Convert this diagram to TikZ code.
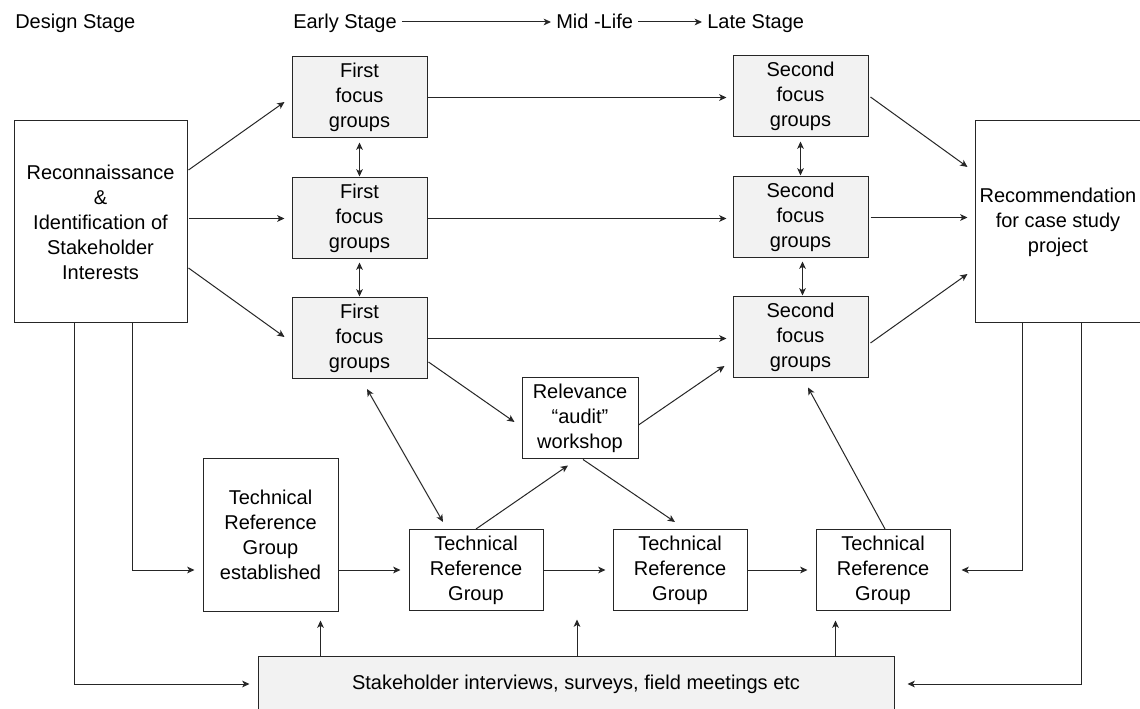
\documentclass[tikz,border=0pt]{standalone}
\usepackage{fontspec}
\setmainfont{Liberation Sans}
\usetikzlibrary{arrows.meta,calc}
\definecolor{linec}{HTML}{262626}
\definecolor{fillg}{HTML}{F2F2F2}
\begin{document}
\begin{tikzpicture}[x=0.75pt,y=-0.75pt,
 every node/.style={font=\fontsize{15}{18.75}\selectfont, text=black},
 box/.style={draw=linec, line width=0.75pt, align=center, inner sep=0pt, fill=white},
 gbox/.style={box, fill=fillg},
 fgbox/.style={gbox, minimum width=101.25pt, minimum height=60.75pt},
 trgbox/.style={box, minimum width=100.5pt, minimum height=60.75pt},
 hdr/.style={anchor=west, inner sep=3.75pt, text height=10.5pt, text depth=0pt},
 tip/.style={-{Stealth[length=5.5pt,width=5pt,inset=1.5pt]}},
 arr/.style={draw=linec, line width=0.75pt, tip},
 darr/.style={draw=linec, line width=0.75pt, {Stealth[length=5.5pt,width=5pt,inset=1.5pt]}-{Stealth[length=5.5pt,width=5pt,inset=1.5pt]}},
]
\clip (0,0) rectangle (1140,709);
\fill[white] (0,0) rectangle (1140,709);

% header
\node[hdr] (hDesign) at (10,22) {Design Stage};
\node[hdr] (hEarly) at (288,22) {Early Stage};
\node[hdr] (hMid) at (551,22) {Mid -Life};
\node[hdr] (hLate) at (702,22) {Late Stage};
\draw[arr] (hEarly) -- (hMid);
\draw[arr] (hMid) -- (hLate);

% boxes
\node[box, minimum width=129.75pt, minimum height=151.5pt] (recon) at (100.5,222)
  {Reconnaissance\\\&\\Identification of\\Stakeholder\\Interests};
\node[fgbox] (ff1) at (359.5,97.5) {First\\focus\\groups};
\node[fgbox] (ff2) at (359.5,218.5) {First\\focus\\groups};
\node[fgbox] (ff3) at (359.5,338.5) {First\\focus\\groups};
\node[fgbox] (sf1) at (800.5,96.5) {Second\\focus\\groups};
\node[fgbox] (sf2) at (800.5,217.5) {Second\\focus\\groups};
\node[fgbox] (sf3) at (800.5,337.5) {Second\\focus\\groups};
\node[box, minimum width=124.5pt, minimum height=151.5pt] (rec) at (1058,222)
  {Recommendation\\for case study\\project};
\node[box, minimum width=87pt, minimum height=60.75pt] (rel) at (580,418.5)
  {Relevance\\``audit''\\workshop};
\node[box, minimum width=101.25pt, minimum height=114pt] (est) at (270.5,535)
  {Technical\\Reference\\Group\\established};
\node[trgbox] (trg1) at (476,570) {Technical\\Reference\\Group};
\node[trgbox] (trg2) at (680,570) {Technical\\Reference\\Group};
\node[trgbox] (trg3) at (883,570) {Technical\\Reference\\Group};
\node[gbox, minimum width=477pt, minimum height=42pt] (stake) at (576,684)
  {Stakeholder interviews, surveys, field meetings etc};

% recon to first focus groups
\draw[arr] ($(recon.east)+(1,-52)$) -- ($(ff1.west)+(-7,4.5)$);
\draw[arr] ($(recon.east|-ff2.west)+(1,0)$) -- ($(ff2.west)+(-7,0)$);
\draw[arr] ($(recon.east)+(1,46)$) -- ($(ff3.west)+(-7,-1.5)$);
\draw[darr] ($(ff1.south)+(0,4)$) -- ($(ff2.north)+(0,-1)$);
\draw[darr] ($(ff2.south)+(0,3)$) -- ($(ff3.north)+(0,-1)$);

% first to second
\draw[arr] (ff1.east) -- ($(sf1.west|-ff1.east)+(-6,0)$);
\draw[arr] (ff2.east) -- ($(sf2.west|-ff2.east)+(-6,0)$);
\draw[arr] (ff3.east) -- ($(sf3.west|-ff3.east)+(-6,0)$);
\draw[darr] ($(sf1.south)+(0,4)$) -- ($(sf2.north)+(0,-1)$);
\draw[darr] ($(sf2.south)+(2,3)$) -- ($(sf3.north)+(2,-1)$);

% second to recommendation
\draw[arr] ($(sf1.east)+(2,0.5)$) -- ($(rec.west)+(-7,-55)$);
\draw[arr] ($(sf2.east)+(2,0)$) -- ($(rec.west|-sf2.east)+(-7,0)$);
\draw[arr] ($(sf3.east)+(2,5.5)$) -- ($(rec.west)+(-7,52)$);

% relevance audit
\draw[arr] ($(ff3.east)+(1,23.5)$) -- ($(rel.west)+(-7,3.5)$);
\draw[arr] ($(rel.east)+(0,6.5)$) -- ($(sf3.west)+(-8,28.5)$);
\draw[darr] ($(ff3.south)+(7.5,9.5)$) -- ($(trg1.north)+(-33,-7)$);
\draw[arr] (trg1.north) -- ($(rel.south)+(-12,6)$);
\draw[arr] ($(rel.south)+(3,0)$) -- ($(trg2.north)+(-5,-7)$);
\draw[arr] ($(trg3.north)+(2,0)$) -- ($(sf3.south)+(7.5,9)$);

% technical reference chain
\draw[arr] (est.east|-trg1.west) -- ($(trg1.west)+(-8,0)$);
\draw[arr] (trg1.east) -- ($(trg2.west)+(-7,0)$);
\draw[arr] (trg2.east) -- ($(trg3.west)+(-8,0)$);

% elbow connectors
\draw[arr] ($(recon.south west)+(119,0)$) |- ($(est.west|-trg1.west)+(-8,0)$);
\draw[arr] ($(recon.south west)+(61,0)$) |- ($(stake.west)+(-8,0)$);
\draw[arr] ($(rec.south west)+(48,0)$) |- ($(trg3.east)+(11,0)$);
\draw[arr] ($(rec.south west)+(107,0)$) |- ($(stake.east)+(13,0)$);

% stakeholder up arrows
\coordinate (t1) at ($(est.south east)+(-18,9)$);
\coordinate (t2) at ($(stake.north)+(1,-36)$);
\coordinate (t3) at ($(trg3.south west)+(20,9.5)$);
\draw[arr] (t1|-stake.north) -- (t1);
\draw[arr] (t2|-stake.north) -- (t2);
\draw[arr] (t3|-stake.north) -- (t3);
\end{tikzpicture}
\end{document}
